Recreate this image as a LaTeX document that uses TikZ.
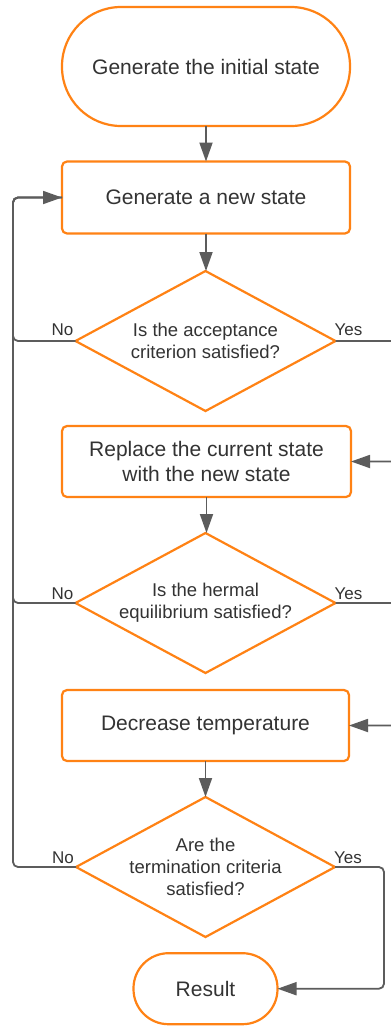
\documentclass[tikz,border=0pt]{standalone}
\usepackage{fontspec}
\setmainfont{Liberation Sans}
\usetikzlibrary{shapes.geometric, arrows.meta, calc}
\definecolor{flowedge}{HTML}{FF8214}
\definecolor{wire}{HTML}{5C5C5C}
\definecolor{ink}{HTML}{333333}
\begin{document}
\begin{tikzpicture}[x=1pt, y=-1pt,
  base/.style={draw=flowedge, line width=2.2pt, fill=white, text=ink,
    inner sep=0pt, outer sep=0pt, align=center},
  terminal/.style={base, rectangle, font=\fontsize{21}{25.5}\selectfont},
  process/.style={base, rectangle, rounded corners=5pt,
    minimum width=288pt, minimum height=72pt,
    font=\fontsize{21}{25.5}\selectfont},
  decision/.style={base, diamond, aspect=1.857,
    minimum width=260pt, minimum height=140pt,
    inner sep=-20pt, font=\fontsize{18.5}{22}\selectfont},
  conn/.style={draw=wire, line width=1.8pt, rounded corners=5pt},
  arrowed/.style={conn, -{Triangle[length=19pt, width=13pt]}},
  tag/.style={text=ink, inner sep=0pt, font=\fontsize{17}{20}\selectfont}]

  \useasboundingbox (0,0) rectangle (391,1026);
  \clip (0,0) rectangle (391,1026);
  \fill[white] (0,0) rectangle (391,1026);

  % vertical lanes for the loop-back and forward connectors
  \coordinate (lane) at (13,0);
  \coordinate (rlane) at (402,0);
  \coordinate (yesr) at (384,0);

  % flowchart steps
  \node[terminal, minimum width=288pt, minimum height=119pt, rounded corners=59pt]
    (init) at (206,66.5) {Generate the initial state};
  \node[process] (new) at (206,197.5) {Generate a new state};
  \node[decision] (acc) at (205.5,341) {Is the acceptance\\criterion satisfied?};
  \node[process, minimum width=289pt, minimum height=71pt]
    (rep) at (206.5,461.5) {Replace the current state\\with the new state};
  \node[decision] (eq) at (205.5,603) {Is the hermal\\equilibrium satisfied?};
  \node[process, minimum width=287pt, minimum height=71pt]
    (dec) at (205.5,725.5) {Decrease temperature};
  \node[decision, minimum width=259pt]
    (term) at (205.5,867) {Are the\\termination criteria\\satisfied?};
  \node[terminal, minimum width=144pt, minimum height=71pt, rounded corners=35pt]
    (res) at (205.5,988.7) {Result};

  % straight-down connectors
  \draw[arrowed] (init.south) -- (new.north);
  \draw[arrowed] (new.south) -- (new.south |- acc.north);
  \draw[arrowed] (rep.south) -- (rep.south |- eq.north);
  \draw[arrowed] (dec.south) -- (dec.south |- term.north);

  % "No" branches loop back to the new-state step
  \draw[conn] (acc.west) -- (acc.west -| lane) |- (new.west);
  \draw[conn] (eq.west) -- (eq.west -| lane) |- (new.west);
  \draw[arrowed] (term.west) -- (term.west -| lane) |- (new.west);

  % "Yes" branches move forward
  \draw[arrowed] (acc.east) -- (acc.east -| rlane) |- (rep.east);
  \draw[arrowed] (eq.east) -- (eq.east -| rlane) |- (dec.east);
  \draw[arrowed] (term.east) -- (term.east -| yesr) |- (res.east);

  % branch labels
  \node[tag, anchor=base east] (no1) at ($(acc.west)+(-2,-6)$) {No};
  \node[tag, anchor=base west] (yes1) at ($(acc.east)+(-1,-6)$) {Yes};
  \node[tag, anchor=base east] (no2) at ($(eq.west)+(-2,-4)$) {No};
  \node[tag, anchor=base west] (yes2) at ($(eq.east)+(-1,-4)$) {Yes};
  \node[tag, anchor=base east] (no3) at ($(term.west)+(-2,-4)$) {No};
  \node[tag, anchor=base west] (yes3) at ($(term.east)+(-1,-4)$) {Yes};
\end{tikzpicture}
\end{document}
